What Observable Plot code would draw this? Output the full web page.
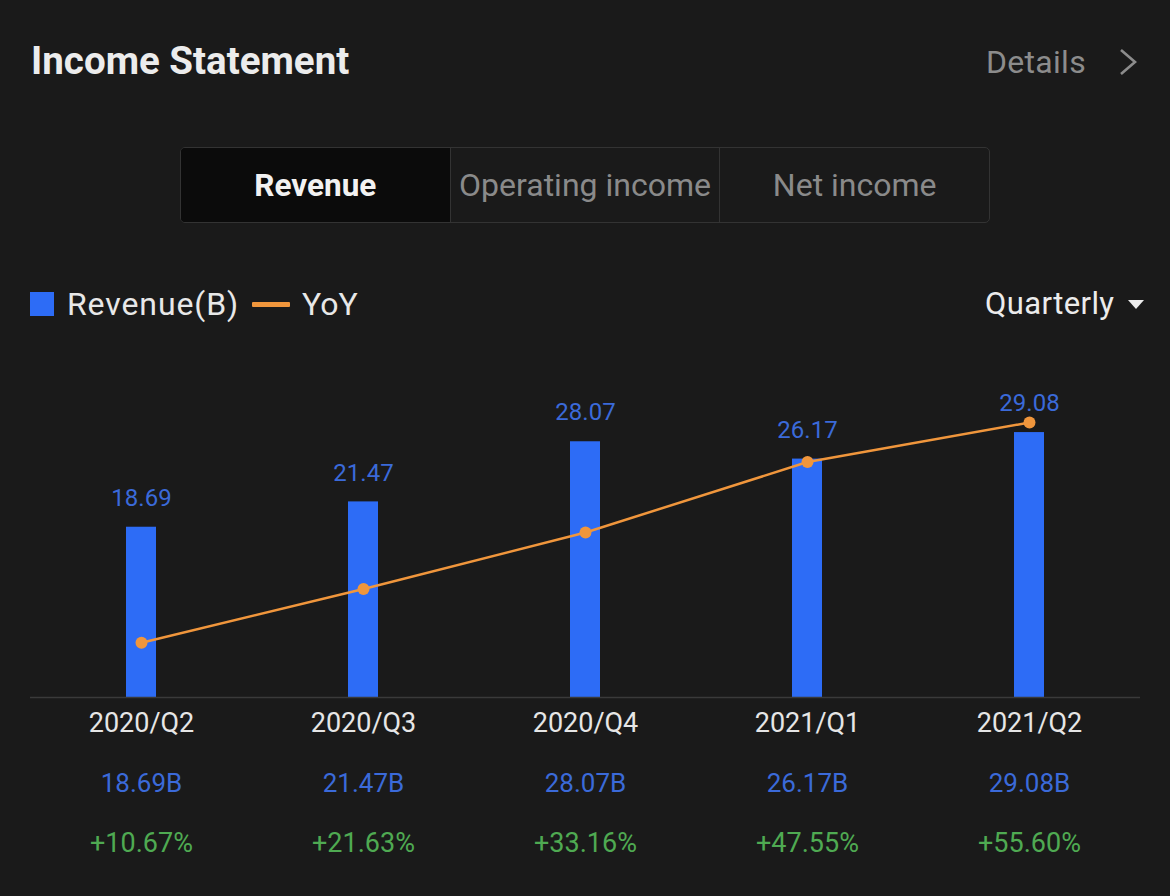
<!DOCTYPE html>
<html>
<head>
<meta charset="utf-8">
<script src="https://cdn.jsdelivr.net/npm/d3@7"></script>
<script src="https://cdn.jsdelivr.net/npm/@observablehq/plot@0.6"></script>
<style>
  html, body { margin: 0; padding: 0; background: #1a1a1a; }
  body { width: 1170px; height: 896px; position: relative; overflow: hidden; font-family: Roboto, "Noto Sans", sans-serif; }
  .abs { position: absolute; white-space: nowrap; }
  #title { left: 31px; top: 37px; font-size: 38.5px; font-weight: 700; color: #ececec; line-height: 48px; }
  #details { right: 84px; top: 40px; font-size: 32px; color: #8c8c8c; line-height: 44px; letter-spacing: 0.3px; }
  #chev { left: 1118px; top: 48px; width: 20px; height: 28px; }
  #tabs { left: 180px; top: 147px; width: 808px; height: 74px; border: 1px solid #333; border-radius: 5px; display: flex; overflow: hidden; }
  .tab { flex: 1; display: flex; align-items: center; justify-content: center; font-size: 32px; color: #8a8a8a; border-left: 1px solid #333; }
  .tab:first-child { border-left: none; background: #0b0b0b; color: #f2f2f2; font-weight: 700; font-size: 31.5px; }
  #legend { left: 30px; top: 284px; display: flex; align-items: center; font-size: 32px; color: #e8e8e8; line-height: 40px; }
  .sp { letter-spacing: 0.9px; }
  .sw { width: 24px; height: 24px; background: #2d6cf6; margin-right: 13px; }
  .ln { width: 38px; height: 5px; background: #f0963c; margin: 0 12px 0 13px; border-radius: 1px; }
  #period { left: 985px; top: 284px; font-size: 31px; color: #ececec; line-height: 40px; display: flex; align-items: center; letter-spacing: 0.4px; }
  .tri { width: 0; height: 0; border-left: 8px solid transparent; border-right: 8px solid transparent; border-top: 9px solid #ececec; margin-left: 14px; }
  #chart { left: 0; top: 340px; }
</style>
</head>
<body>
<div class="abs" id="title">Income Statement</div>
<div class="abs" id="details">Details</div>
<svg class="abs" id="chev" viewBox="0 0 20 28"><polyline points="3,2 17,14 3,26" fill="none" stroke="#8c8c8c" stroke-width="2.6"/></svg>
<div class="abs" id="tabs">
  <div class="tab">Revenue</div>
  <div class="tab">Operating income</div>
  <div class="tab">Net income</div>
</div>
<div class="abs" id="legend"><div class="sw"></div><span class="sp">Revenue(B)</span><div class="ln"></div><span>YoY</span></div>
<div class="abs" id="period">Quarterly<div class="tri"></div></div>
<div class="abs" id="chart"></div>
<script>
const quarters = ["2020/Q2", "2020/Q3", "2020/Q4", "2021/Q1", "2021/Q2"];
const revenue = [18.69, 21.47, 28.07, 26.17, 29.08];
const yoy = [10.67, 21.63, 33.16, 47.55, 55.60];

const revMax = 32.6;   // revenue axis top (B)
const yoyMin = -0.5;   // YoY axis bottom (%)
const yoyMax = 60.1;   // YoY axis top (%), mapped onto the same vertical range
const k = revMax / (yoyMax - yoyMin);

const data = quarters.map((q, i) => ({q, rev: revenue[i], yoy: yoy[i], yoyScaled: (yoy[i] - yoyMin) * k}));

const blue = "#2d6cf6", blueText = "#3b6ad9", orange = "#f0963c", green = "#4faa52";

const chart = Plot.plot({
  width: 1170,
  height: 556,
  marginLeft: 30,
  marginRight: 30,
  marginTop: 60,
  marginBottom: 199,
  style: {background: "transparent", fontFamily: "Roboto, sans-serif"},
  x: {domain: quarters, paddingInner: 0.865, paddingOuter: 0.4325, label: null},
  y: {domain: [0, revMax], axis: null},
  marks: [
    Plot.barY(data, {x: "q", y: "rev", fill: blue}),
    Plot.ruleY([0], {stroke: "#3a3a3a", strokeWidth: 1.5}),
    Plot.line(data, {x: "q", y: "yoyScaled", stroke: orange, strokeWidth: 2.5}),
    Plot.dot(data, {x: "q", y: "yoyScaled", r: 6, fill: orange}),
    Plot.text(data, {x: "q", y: "rev", text: d => d.rev.toFixed(2), dy: -29, fill: blueText, fontSize: 24}),
    Plot.axisX({tickSize: 0, tickPadding: 15, fontSize: 27, color: "#e6e6e6"}),
    Plot.text(data, {x: "q", y: () => 0, text: d => d.rev.toFixed(2) + "B", dy: 86, fill: blueText, fontSize: 26}),
    Plot.text(data, {x: "q", y: () => 0, text: d => "+" + d.yoy.toFixed(2) + "%", dy: 146, fill: green, fontSize: 27})
  ]
});
document.getElementById("chart").appendChild(chart);
</script>
</body>
</html>
